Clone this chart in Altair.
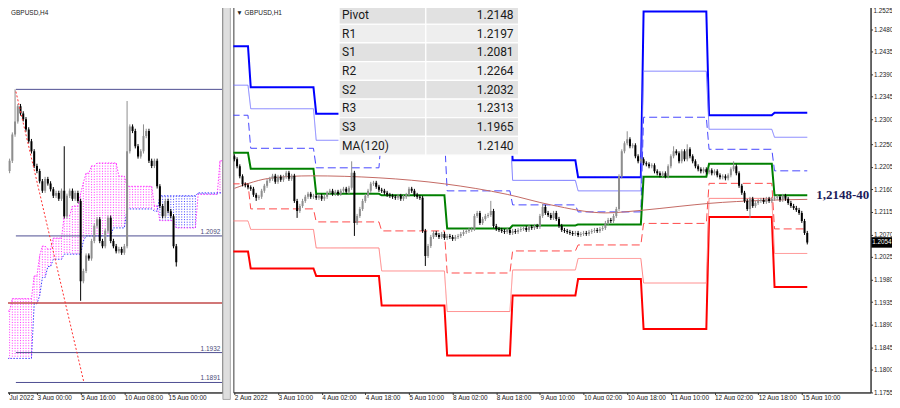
import altair as alt
import pandas as pd

# ======================= H1 (right) panel data =======================
H1_FIRST_OPEN = 1.2226
h1_close = [
    1.2220, 1.2206, 1.2186, 1.2170, 1.2168, 1.2164, 1.2161, 1.2149, 1.2143, 1.2145,
    1.2157, 1.2167, 1.2177, 1.2181, 1.2187, 1.2175, 1.2185, 1.2179, 1.2185, 1.2193,
    1.2181, 1.2187, 1.2137, 1.2117, 1.2127, 1.2137, 1.2145, 1.2151, 1.2145, 1.2147,
    1.2143, 1.2147, 1.2141, 1.2145, 1.2153, 1.2157, 1.2151, 1.2155, 1.2151, 1.2157,
    1.2161, 1.2155, 1.2163, 1.2193, 1.2093, 1.2107, 1.2121, 1.2137, 1.2147, 1.2157,
    1.2171, 1.2173, 1.2165, 1.2159, 1.2157, 1.2153, 1.2149, 1.2147, 1.2145, 1.2143,
    1.2147, 1.2141, 1.2145, 1.2149, 1.2161, 1.2157, 1.2149, 1.2145, 1.2143, 1.2077,
    1.2027, 1.2047, 1.2065, 1.2073, 1.2069, 1.2065, 1.2071, 1.2063, 1.2067, 1.2065,
    1.2061, 1.2065, 1.2067, 1.2071, 1.2075, 1.2077, 1.2079, 1.2081, 1.2107, 1.2113,
    1.2093, 1.2101, 1.2107, 1.2109, 1.2117, 1.2087, 1.2081, 1.2079, 1.2077, 1.2075,
    1.2079, 1.2073, 1.2077, 1.2075, 1.2079, 1.2081, 1.2083, 1.2079, 1.2085, 1.2083,
    1.2087, 1.2085, 1.2107, 1.2125, 1.2113, 1.2109, 1.2103, 1.2113, 1.2101, 1.2087,
    1.2079, 1.2077, 1.2075, 1.2073, 1.2071, 1.2073, 1.2069, 1.2071, 1.2073, 1.2071,
    1.2075, 1.2077, 1.2079, 1.2077, 1.2081, 1.2083, 1.2093, 1.2099, 1.2097, 1.2107,
    1.2121, 1.2186, 1.2236, 1.2252, 1.2260, 1.2246, 1.2248, 1.2226, 1.2216, 1.2220,
    1.2212, 1.2210, 1.2206, 1.2208, 1.2196, 1.2192, 1.2188, 1.2192, 1.2186, 1.2206,
    1.2226, 1.2236, 1.2232, 1.2216, 1.2236, 1.2220, 1.2240, 1.2226, 1.2216, 1.2206,
    1.2200, 1.2196, 1.2200, 1.2194, 1.2198, 1.2192, 1.2196, 1.2188, 1.2184, 1.2186,
    1.2182, 1.2188, 1.2200, 1.2206, 1.2192, 1.2167, 1.2153, 1.2137, 1.2121, 1.2141,
    1.2127, 1.2133, 1.2137, 1.2139, 1.2135, 1.2141, 1.2137, 1.2141, 1.2143, 1.2145,
    1.2139, 1.2147, 1.2141, 1.2133, 1.2127, 1.2123, 1.2119, 1.2113, 1.2097, 1.2073,
    1.2054,
]
h1_high_spikes = {43: 1.2216, 94: 1.2137, 113: 1.2131, 144: 1.2276, 161: 1.2246,
                  166: 1.2250, 183: 1.2216}
h1_low_spikes = {8: 1.2137, 23: 1.2103, 44: 1.2067, 70: 1.2007, 189: 1.2103, 210: 1.2050}
H1_WICK = 0.0004

# daily pivot levels (one value per trading day)
day_start = [-1, 6, 30, 54, 78, 102, 126, 150, 174, 198]
day_end = [5, 29, 53, 77, 101, 125, 149, 173, 197, 210]
lvl_r3 = [1.2446, 1.2364, 1.2311, 1.2380, 1.2330, 1.2218, 1.2184, 1.2515, 1.2308, 1.2313]
lvl_r2 = [1.2368, 1.2321, 1.2258, 1.2330, 1.2290, 1.2178, 1.2157, 1.2396, 1.2280, 1.2264]
lvl_r1 = [1.2308, 1.2242, 1.2203, 1.2270, 1.2157, 1.2129, 1.2115, 1.2304, 1.2240, 1.2197]
lvl_pivot = [1.2233, 1.2201, 1.2151, 1.2148, 1.2082, 1.2088, 1.2090, 1.2185, 1.2211, 1.2148]
lvl_s1 = [1.2171, 1.2121, 1.2095, 1.2077, 1.1993, 1.2037, 1.2049, 1.2092, 1.2172, 1.2081]
lvl_s2 = [1.2097, 1.2080, 1.2043, 1.1997, 1.1916, 1.1999, 1.2022, 1.1973, 1.2142, 1.2032]
lvl_s3 = [1.2036, 1.2002, 1.1987, 1.1928, 1.1828, 1.1948, 1.1981, 1.1881, 1.2105, 1.1965]

ma_idx = [0, 14, 28, 53, 77, 100, 116, 136, 149, 163, 174, 194, 210]
ma_val = [1.2162, 1.2183, 1.2187, 1.2183, 1.2171, 1.2150, 1.2129, 1.2113, 1.2118,
          1.2126, 1.2132, 1.2138, 1.2140]

h1_tick_idx = [0, 16, 32, 48, 64, 80, 96, 112, 128, 144, 160, 176, 192, 208]
h1_tick_lab = ["2 Aug 2022", "3 Aug 10:00", "4 Aug 02:00", "4 Aug 18:00", "5 Aug 10:00",
               "8 Aug 02:00", "8 Aug 18:00", "9 Aug 10:00", "10 Aug 02:00", "10 Aug 18:00",
               "11 Aug 10:00", "12 Aug 02:00", "12 Aug 18:00", "15 Aug 10:00"]
h1_price_ticks = [1.1755, 1.1800, 1.1845, 1.1890, 1.1935, 1.1980, 1.2025, 1.2070, 1.2115,
                  1.2160, 1.2205, 1.2250, 1.2300, 1.2345, 1.2390, 1.2435, 1.2480, 1.2525]
h1_top_tick = [1.2525]

table_rows = ["Pivot", "R1", "S1", "R2", "S2", "R3", "S3", "MA(120)"]
table_vals = ["1.2148", "1.2197", "1.2081", "1.2264", "1.2032", "1.2313", "1.1965", "1.2140"]
table_shade = ["#e1e1e1", "#eeeeee", "#e1e1e1", "#eeeeee", "#e1e1e1", "#eeeeee", "#e1e1e1", "#eeeeee"]

annot_text = ["1,2148-40"]
annot_idx = [213.3]
annot_price = [1.2148]
last_price = [1.2054]

# ======================= H4 (left) panel data =======================
H4_FIRST_OPEN = 1.2180
H4_START = -13
h4_close = [
    1.2174, 1.2167, 1.2181, 1.2195, 1.2231, 1.2249, 1.2270, 1.2260, 1.2252, 1.2238,
    1.2222, 1.2208, 1.2188, 1.2181, 1.2167, 1.2154, 1.2170, 1.2164, 1.2156, 1.2147,
    1.2151, 1.2143, 1.2154, 1.2119, 1.2147, 1.2154, 1.2143, 1.2151, 1.2140, 1.2030,
    1.2044, 1.2065, 1.2061, 1.2085, 1.2106, 1.2115, 1.2085, 1.2078, 1.2099, 1.2117,
    1.2085, 1.2078, 1.2071, 1.2074, 1.2069, 1.2078, 1.2208, 1.2242, 1.2236, 1.2215,
    1.2201, 1.2208, 1.2229, 1.2236, 1.2195, 1.2188, 1.2195, 1.2160, 1.2133, 1.2119,
    1.2140, 1.2126, 1.2119, 1.2078, 1.2056,
]
h4_high_spikes = {-8: 1.2293, 10: 1.2215, 33: 1.2277, 39: 1.2245}
h4_low_spikes = {16: 1.2003, 51: 1.2050}
H4_WICK = 0.0003

cloud_j0 = [-13, -9, -1, 1, 2, 4, 6, 10, 13, 16, 17, 18, 20, 22, 28, 30, 33, 43, 45, 51, 59, 67]
cloud_j1 = [-10, -2, 0, 1, 3, 5, 9, 12, 15, 16, 17, 19, 21, 27, 29, 32, 42, 44, 50, 58, 66, 68]
span_a = [1.1989, 1.2006, 1.2037, 1.2065, 1.2078, 1.2074, 1.2089, 1.2120, 1.2133, 1.2150,
          1.2165, 1.2178, 1.2188, 1.2192, 1.2192, 1.2174, 1.2160, 1.2133, 1.2113, 1.2103,
          1.2149, 1.2195]
span_b = [1.1924, 1.1924, 1.1999, 1.2010, 1.2035, 1.2050, 1.2060, 1.2067, 1.2067, 1.2067,
          1.2085, 1.2092, 1.2092, 1.2092, 1.2103, 1.2103, 1.2129, 1.2126, 1.2147, 1.2147,
          1.2151, 1.2151]

h4_levels = [1.2293, 1.2092, 1.1932, 1.1891]
h4_level_labels = ["", "1.2092", "1.1932", "1.1891"]
h4_red_level = [1.2000]
trend_j = [-7.7, 17.2]
trend_p = [1.2290, 1.1891]

h4_tick_idx = [-10.2, 0, 16, 32, 48]
h4_tick_lab = ["Jul 2022", "3 Aug 00:00", "5 Aug 16:00", "10 Aug 08:00", "15 Aug 00:00"]

# ======================= helpers =======================
AX_FONT = "Liberation Sans"
BULL = "#8e8e8e"
BEAR = "#000000"


def build_candles(first_open, closes, start, hi, lo, wick):
    rows = []
    o = first_open
    for k, c in enumerate(closes):
        i = start + k
        h = max(hi.get(i, max(o, c) + wick), o, c)
        l = min(lo.get(i, min(o, c) - wick), o, c)
        rows.append(dict(idx=i, open=o, close=c, high=h, low=l,
                         dir="up" if c >= o else "down"))
        o = c
    return pd.DataFrame(rows)


def label_expr(values, labels):
    vals = ",".join(str(v) for v in values)
    labs = ",".join("' " + s + "'" for s in labels)
    return f"[{labs}][indexof([{vals}], datum.value)]"


# ======================= right panel =======================
R_W, R_H = 639, 392
XR_DOM = [-0.365, 233.2]
YR_DOM = [1.17544, 1.2535]

axis_xr = alt.Axis(values=h1_tick_idx, labelExpr=label_expr(h1_tick_idx, h1_tick_lab),
                   labelAlign="left", labelBaseline="top", labelFlush=False, labelOverlap=False,
                   labelPadding=0, tickSize=2, labelFont=AX_FONT, labelFontSize=6.5,
                   labelColor="#222", tickColor="#333", domainColor="#333", grid=False, title=None)
axis_yr = alt.Axis(orient="right", values=h1_price_ticks,
                   labelExpr="datum.value > 1.252 ? '' : format(datum.value, '.4f')",
                   labelFont=AX_FONT, labelFontSize=6.3, labelColor="#222", tickSize=2,
                   tickColor="#333", labelPadding=1, labelFlush=False, labelOverlap=False,
                   domainColor="#333", grid=False, title=None)


def XR(field="idx"):
    return alt.X(f"{field}:Q", scale=alt.Scale(domain=XR_DOM, nice=False, zero=False), axis=axis_xr)


def YR(field="price"):
    return alt.Y(f"{field}:Q", scale=alt.Scale(domain=YR_DOM, nice=False, zero=False), axis=axis_yr)


right_layers = []
level_specs = [
    (lvl_s3, "#ff0000", [1, 0], 2),
    (lvl_s2, "#ff8585", [1, 0], 1),
    (lvl_s1, "#ff4a4a", [8, 4], 1),
    (lvl_r3, "#0000ff", [1, 0], 2),
    (lvl_r2, "#7a7aff", [1, 0], 1),
    (lvl_r1, "#4646ff", [8, 4], 1),
    (lvl_pivot, "#008000", [1, 0], 2),
]
for vals, col, dash, w in level_specs:
    rows = []
    for s, e, v in zip(day_start, day_end, vals):
        rows.append(dict(idx=s, price=v))
        rows.append(dict(idx=e, price=v))
    right_layers.append(
        alt.Chart(pd.DataFrame(rows)).mark_line(color=col, strokeDash=dash, strokeWidth=w, clip=True)
        .encode(x=XR(), y=YR(), order="idx:Q")
    )

ma_df = pd.DataFrame({"idx": ma_idx, "price": ma_val})
right_layers.append(
    alt.Chart(ma_df).mark_line(color="#c46a64", strokeWidth=1, interpolate="monotone", clip=True)
    .encode(x=XR(), y=YR())
)

h1 = build_candles(H1_FIRST_OPEN, h1_close, 0, h1_high_spikes, h1_low_spikes, H1_WICK)
for d, col in (("up", BULL), ("down", BEAR)):
    sub = h1[h1["dir"] == d]
    right_layers.append(
        alt.Chart(sub).mark_rule(color=col, strokeWidth=1, clip=True)
        .encode(x=XR(), y=YR("high"), y2=alt.Y2("low:Q"))
    )
    right_layers.append(
        alt.Chart(sub).mark_rule(color=col, strokeWidth=2, clip=True)
        .encode(x=XR(), y=YR("open"), y2=alt.Y2("close:Q"))
    )

annot_df = pd.DataFrame({"idx": annot_idx, "price": annot_price, "t": annot_text})
right_layers.append(
    alt.Chart(annot_df).mark_text(align="left", baseline="middle", font="Liberation Serif",
                                  fontWeight="bold", fontSize=13, color="#1c1c5a")
    .encode(x=XR(), y=YR(), text="t:N")
)

top_df = pd.DataFrame({"price": h1_top_tick, "t": [f"{v:.4f}" for v in h1_top_tick]})
right_layers.append(
    alt.Chart(top_df).mark_text(align="left", baseline="top", dy=1, font=AX_FONT, fontSize=6.3,
                                color="#222")
    .encode(x=alt.value(R_W + 3), y=YR(), text="t:N")
)

lp_df = pd.DataFrame({"price": last_price, "t": [f"{v:.4f}" for v in last_price]})
right_layers.append(
    alt.Chart(lp_df).mark_point(shape="M-1,-0.5H1V0.5H-1Z", filled=True, color="black",
                                size=441, opacity=1)
    .encode(x=alt.value(R_W + 11.3), y=YR())
)
right_layers.append(
    alt.Chart(lp_df).mark_text(align="center", baseline="middle", font=AX_FONT, fontSize=6.3,
                               color="white")
    .encode(x=alt.value(R_W + 11.3), y=YR(), text="t:N")
)
right_layers.append(
    alt.Chart(pd.DataFrame({"t": ["\u25BC GBPUSD,H1"]})).mark_text(
        align="left", baseline="middle", font=AX_FONT, fontSize=6.5, color="#222")
    .encode(x=alt.value(3), y=alt.value(11), text="t:N")
)

price_layer = alt.layer(*right_layers)

tbl = pd.DataFrame({"row": table_rows, "val": table_vals, "shade": table_shade})
ytab = alt.Y("row:N", scale=alt.Scale(domain=table_rows, range=[4, 154], paddingInner=0,
                                      paddingOuter=0), axis=None)
table_layer = alt.layer(
    alt.Chart(tbl).mark_rect(stroke="white", strokeWidth=1.2)
    .encode(x=alt.value(106), x2=alt.value(193), y=ytab, fill=alt.Fill("shade:N", scale=None)),
    alt.Chart(tbl).mark_rect(stroke="white", strokeWidth=1.2)
    .encode(x=alt.value(193), x2=alt.value(286), y=ytab, fill=alt.Fill("shade:N", scale=None)),
    alt.Chart(tbl).mark_text(align="left", baseline="middle", font="Roboto", fontSize=12,
                             color="#1a1a1a")
    .encode(x=alt.value(109), y=ytab, text="row:N"),
    alt.Chart(tbl).mark_text(align="right", baseline="middle", font="Roboto", fontSize=12,
                             color="#1a1a1a")
    .encode(x=alt.value(281), y=ytab, text="val:N"),
)

right = alt.layer(price_layer, table_layer).resolve_scale(y="independent").properties(
    width=R_W, height=R_H)

# ======================= left panel =======================
L_W, L_H = 222, 392
XL_DOM = [-13.14, 67.88]
YL_DOM = [1.18773, 1.24134]

axis_xl = alt.Axis(values=h4_tick_idx, labelExpr=label_expr(h4_tick_idx, h4_tick_lab),
                   labelAlign="left", labelBaseline="top", labelFlush=False, labelOverlap=False,
                   labelPadding=0, tickSize=2, labelFont=AX_FONT, labelFontSize=6.5,
                   labelColor="#222", tickColor="#333", domainColor="#333", grid=False, title=None)


def XL(field="idx"):
    return alt.X(f"{field}:Q", scale=alt.Scale(domain=XL_DOM, nice=False, zero=False), axis=axis_xl)


def YL(field="price"):
    return alt.Y(f"{field}:Q", scale=alt.Scale(domain=YL_DOM, nice=False, zero=False), axis=None)


left_layers = []

# cloud hatch
cloud_rows = []
for j0, j1, a, b in zip(cloud_j0, cloud_j1, span_a, span_b):
    for j in range(j0, j1 + 1):
        cloud_rows.append(dict(idx=j, a=a, b=b, bull=a >= b))
cloud = pd.DataFrame(cloud_rows)
for flag, col in ((True, "#ff33ff"), (False, "#4040ff")):
    left_layers.append(
        alt.Chart(cloud[cloud["bull"] == flag]).mark_rule(color=col, strokeWidth=1,
                                                          strokeDash=[1, 1.6], clip=True)
        .encode(x=XL(), y=YL("a"), y2=alt.Y2("b:Q"))
    )
left_layers.append(
    alt.Chart(cloud).mark_line(color="#ff33ff", strokeWidth=1, strokeDash=[1.5, 1.5], clip=True)
    .encode(x=XL(), y=YL("a"))
)
left_layers.append(
    alt.Chart(cloud).mark_line(color="#3a3aff", strokeWidth=1, strokeDash=[1.5, 1.5], clip=True)
    .encode(x=XL(), y=YL("b"))
)

lv = pd.DataFrame({"price": h4_levels, "lab": h4_level_labels, "j0": -7.7, "j1": 67.8})
left_layers.append(
    alt.Chart(lv).mark_rule(color="#4e4e92", strokeWidth=1, clip=True)
    .encode(x=XL("j0"), x2=alt.X2("j1:Q"), y=YL())
)
red = pd.DataFrame({"price": h4_red_level, "j0": -13.1, "j1": 67.8})
left_layers.append(
    alt.Chart(red).mark_rule(color="#c24a4a", strokeWidth=1.5, clip=True)
    .encode(x=XL("j0"), x2=alt.X2("j1:Q"), y=YL())
)

h4 = build_candles(H4_FIRST_OPEN, h4_close, H4_START, h4_high_spikes, h4_low_spikes, H4_WICK)
for d, col in (("up", BULL), ("down", BEAR)):
    sub = h4[h4["dir"] == d]
    left_layers.append(
        alt.Chart(sub).mark_rule(color=col, strokeWidth=1, clip=True)
        .encode(x=XL(), y=YL("high"), y2=alt.Y2("low:Q"))
    )
    left_layers.append(
        alt.Chart(sub).mark_rule(color=col, strokeWidth=2, clip=True)
        .encode(x=XL(), y=YL("open"), y2=alt.Y2("close:Q"))
    )

trend = pd.DataFrame({"idx": trend_j, "price": trend_p})
left_layers.append(
    alt.Chart(trend).mark_line(color="#ff3030", strokeWidth=1, strokeDash=[2, 2], clip=True)
    .encode(x=XL(), y=YL())
)
left_layers.append(
    alt.Chart(lv).mark_text(align="right", baseline="bottom", dy=-1, font=AX_FONT, fontSize=6.5,
                            color="#4a4a78")
    .encode(x=alt.value(L_W - 2), y=YL(), text="lab:N")
)
left_layers.append(
    alt.Chart(pd.DataFrame({"t": ["GBPUSD,H4"]})).mark_text(
        align="left", baseline="middle", font=AX_FONT, fontSize=6.5, color="#222")
    .encode(x=alt.value(10), y=alt.value(11), text="t:N")
)
# window splitter between the two chart windows
left_layers.append(
    alt.Chart(pd.DataFrame({"t": ["split"]})).mark_rect(fill="#dedede", stroke="#9a9a9a",
                                                        strokeWidth=0.8)
    .encode(x=alt.value(L_W + 0.5), x2=alt.value(L_W + 8), y=alt.value(0),
            y2=alt.value(L_H + 7))
)

left = alt.layer(*left_layers).properties(width=L_W, height=L_H)

chart = (
    alt.hconcat(left, right, spacing=1)
    .properties(padding={"left": -8, "top": -8, "right": -1.5, "bottom": -2})
    .configure(background="white")
    .configure_view(stroke="#3a3a3a", strokeWidth=1)
)

chart.save("out.html", embed_options={"renderer": "svg", "actions": False})
